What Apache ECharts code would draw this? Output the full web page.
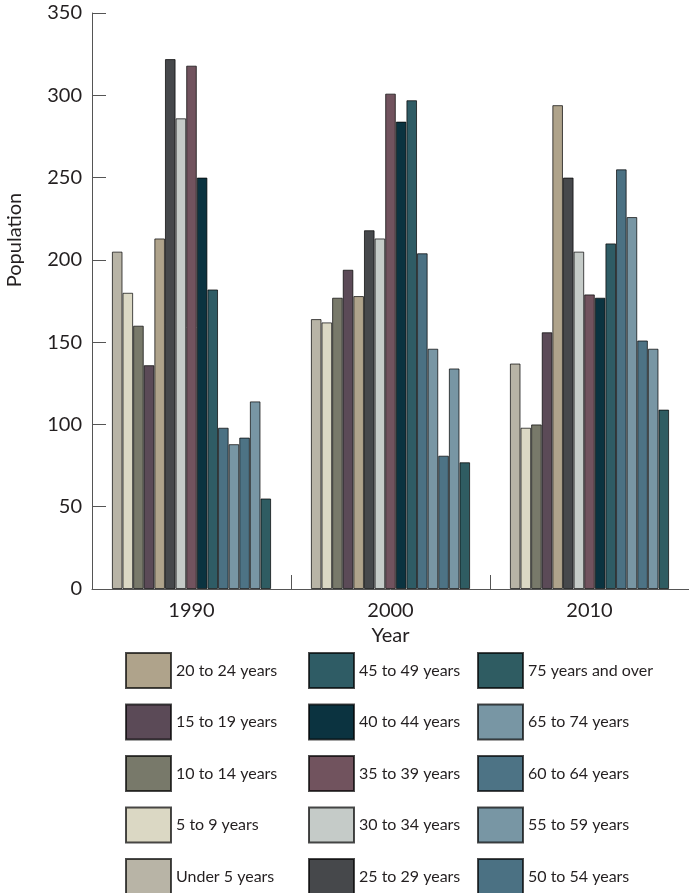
<!DOCTYPE html>
<html>
<head>
<meta charset="utf-8">
<script src="https://cdn.jsdelivr.net/npm/echarts@6/dist/echarts.min.js"></script>
<style>
html,body{margin:0;padding:0;background:#fff;}
#chart{width:689px;height:893px;}
</style>
</head>
<body>
<div id="chart"></div>
<script>
var years = ['1990', '2000', '2010'];
var ageGroups = ['Under 5 years', '5 to 9 years', '10 to 14 years', '15 to 19 years', '20 to 24 years',
  '25 to 29 years', '30 to 34 years', '35 to 39 years', '40 to 44 years', '45 to 49 years',
  '50 to 54 years', '55 to 59 years', '60 to 64 years', '65 to 74 years', '75 years and over'];
var pop1990 = [205, 180, 160, 136, 213, 322, 286, 318, 250, 182, 98, 88, 92, 114, 55];
var pop2000 = [164, 162, 177, 194, 178, 218, 213, 301, 284, 297, 204, 146, 81, 134, 77];
var pop2010 = [137, 98, 100, 156, 294, 250, 205, 179, 177, 210, 255, 226, 151, 146, 109];
var yTicks = [0, 50, 100, 150, 200, 250, 300, 350];

var colors = ['#b8b4a6', '#dbd8c4', '#78796a', '#5b4a57', '#afa38b',
  '#46484b', '#c5cbc8', '#71535e', '#0b3340', '#2f5c65',
  '#4b7183', '#7896a4', '#4d7385', '#7896a4', '#2f5c62'];

var FONT = 'Lato';
var TXT = '#231f20';
var AX = '#555555';

var series = ageGroups.map(function (name, i) {
  return {
    name: name,
    type: 'bar',
    data: [pop1990[i], pop2000[i], pop2010[i]],
    barGap: '0%',
    barCategoryGap: '20%',
    itemStyle: { color: colors[i], borderColor: 'rgba(0,0,0,0.7)', borderWidth: 1 }
  };
});

function legendCol(names, left) {
  return {
    orient: 'vertical',
    left: left,
    top: 652,
    height: 260,
    padding: 0,
    icon: 'rect',
    itemWidth: 45,
    itemHeight: 35,
    itemGap: 14.5,
    data: names,
    selectedMode: false,
    textStyle: { fontFamily: FONT, fontSize: 16, color: TXT }
  };
}

var chart = echarts.init(document.getElementById('chart'), null, { renderer: 'canvas' });
chart.setOption({
  animation: false,
  backgroundColor: '#ffffff',
  grid: { left: 92, right: -3, top: 13, bottom: 304, containLabel: false },
  legend: [
    legendCol(ageGroups.slice(0, 5).reverse(), 125),
    legendCol(ageGroups.slice(5, 10).reverse(), 308),
    legendCol(ageGroups.slice(10, 15).reverse(), 477)
  ],
  graphic: [{
    type: 'text',
    x: 15,
    y: 240,
    rotation: Math.PI / 2,
    style: {
      text: 'Population',
      fontFamily: FONT,
      fontSize: 20,
      fill: TXT,
      textAlign: 'center',
      textVerticalAlign: 'middle'
    }
  }],
  xAxis: {
    type: 'category',
    data: years,
    boundaryGap: true,
    name: 'Year',
    nameLocation: 'middle',
    nameGap: 35,
    nameTextStyle: { fontFamily: FONT, fontSize: 20, color: TXT },
    axisLine: { show: true, lineStyle: { color: AX, width: 1 } },
    axisTick: { show: true, inside: true, length: 14, alignWithLabel: false, lineStyle: { color: AX } },
    axisLabel: { fontFamily: FONT, fontSize: 20, color: TXT, margin: 12 },
    splitLine: { show: false }
  },
  yAxis: {
    type: 'value',
    min: yTicks[0],
    max: yTicks[yTicks.length - 1],
    interval: 50,
    axisLine: { show: true, lineStyle: { color: AX, width: 1 } },
    axisTick: { show: true, inside: true, length: 14, lineStyle: { color: AX } },
    axisLabel: { fontFamily: FONT, fontSize: 20, color: TXT, margin: 10 },
    splitLine: { show: false }
  },
  series: series
});
</script>
</body>
</html>
